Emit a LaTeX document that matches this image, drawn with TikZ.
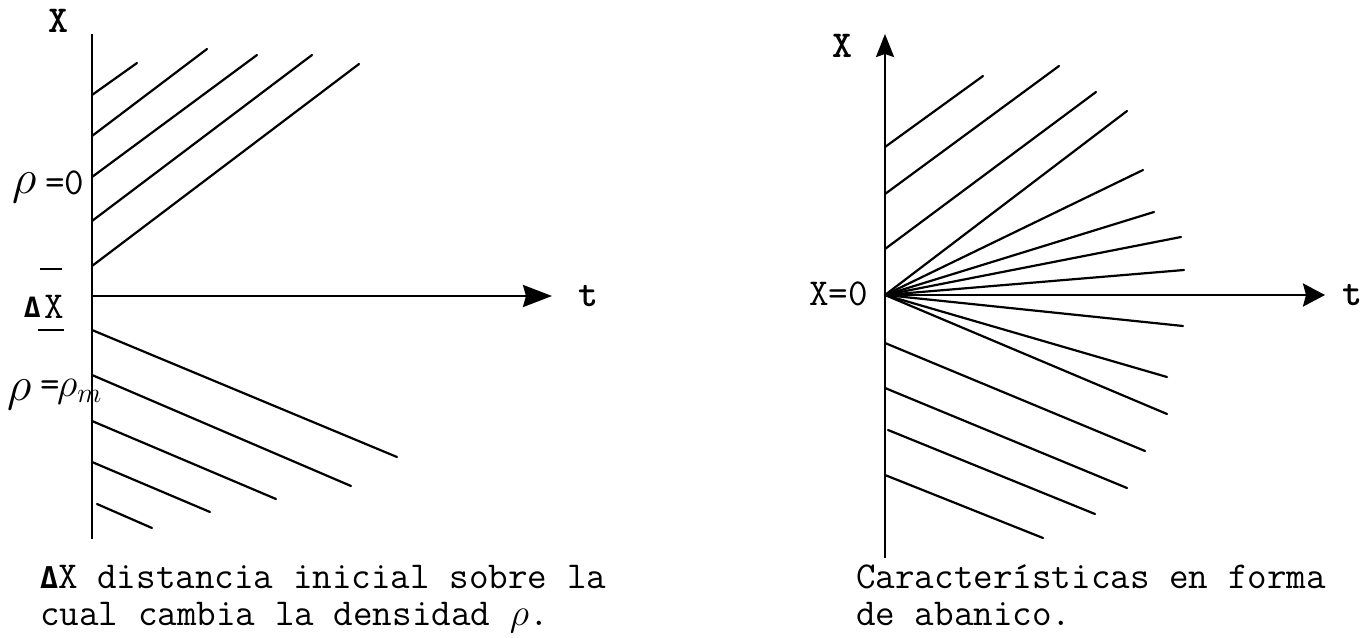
\RequirePackage{fix-cm}
\documentclass[tikz,border=0pt]{standalone}
\usepackage{amsmath,amssymb}
\usepackage{fontspec}
\usepackage{tikz}
\usetikzlibrary{arrows.meta, positioning}

\newfontfamily\tnegra{lmmonolt10-bold.otf}
\newfontfamily\griega{DejaVu Sans Mono}

\tikzset{
  carac/.style={line width=2.2pt, line cap=round},
  eje/.style={line width=2.6pt},
  marca/.style={line width=1.6pt},
  rot/.style={font=\ttfamily\fontsize{38}{38}\selectfont, inner sep=0pt},
  rotb/.style={font=\tnegra\fontsize{38}{38}\selectfont, inner sep=0pt},
  rho/.style={font=\fontsize{48}{48}\selectfont, inner sep=0pt},
  leyenda/.style={font=\ttfamily\fontsize{38}{38}\selectfont, inner sep=0pt,
    text height=26pt, text depth=8pt, anchor=base west}
}

\begin{document}
\begin{tikzpicture}[x=1pt, y=-1pt, >=Stealth]
  \useasboundingbox (0,0) rectangle (1372,637);
  % 左图：坐标轴
  \coordinate (A0) at (92,296);
  \draw[eje] (92,34) -- (92,539);
  \draw[eje, -{Stealth[length=29pt, width=22pt, inset=3pt]}] (A0) -- (552,296) coordinate (At);
  \node[rotb, right=26pt of At] (tA) {t};
  \node[rotb] (xA) at (58,21) {X};
  % 上方特征线
  \foreach \ya/\xb/\yb in {95/137/63, 136/207/49, 177/257/55, 221/312/55, 266/359/64}
    \draw[carac] (92,\ya) -- (\xb,\yb);
  % 下方特征线
  \foreach \xa/\ya/\xb/\yb in {92/330/397/457, 92/375/351/486, 92/421/276/499, 92/462/210/512, 97/504/152/528}
    \draw[carac] (\xa,\ya) -- (\xb,\yb);
  % 密度标记
  \node[rot, anchor=west] (igA) at (45,183) {=0};
  \node[rho] (rA) at (25,188) {$\rho$};
  \node[rot] (dX) at (54,307) {X};
  \node[rot, left=3pt of dX] (dD) {\griega\bfseries\fontsize{28}{28}\selectfont Δ};
  \draw[marca] (40,269) -- (62,269);
  \draw[marca] (38,330) -- (64,330);
  \node[rho] (rB) at (20,395) {$\rho$};
  \node[rot] (igB) at (50,389) {=};
  \node[rho, font=\fontsize{40}{40}\selectfont, anchor=west] (rm) at (57,392) {$\rho_m$};

  % 右图：坐标轴
  \coordinate (B0) at (885,295);
  \draw[eje, -{Stealth[length=23pt, width=18pt, inset=3pt]}] (885,558) -- (885,34);
  \draw[eje, -{Stealth[length=22pt, width=23pt, inset=3pt]}] (B0) -- (1325,295) coordinate (Bt);
  \node[rotb, right=17pt of Bt] (tB) {t};
  \node[rotb] (xB) at (842,46) {X};
  \node[rot, anchor=east] (x0) at (868,294) {X=0};
  % 上方平行线
  \foreach \ya/\xb/\yb in {147/983/76, 194/1059/66, 249/1096/92}
    \draw[carac] (885,\ya) -- (\xb,\yb);
  % 扇形特征线
  \foreach \xb/\yb in {1127/111, 1143/170, 1154/212, 1181/237, 1184/270, 1183/326, 1167/377, 1167/414}
    \draw[carac] (B0) -- (\xb,\yb);
  % 下方平行线
  \foreach \xa/\ya/\xb/\yb in {885/343/1145/451, 885/388/1127/488, 888/430/1095/514, 885/475/1043/538}
    \draw[carac] (\xa,\ya) -- (\xb,\yb);

  % 说明文字
  \node[leyenda] (capA1) at (40,588) {{\griega\bfseries\fontsize{30}{30}\selectfont Δ}X distancia inicial sobre la};
  \node[leyenda] (capA2) at (40,625) {cual cambia la densidad $\rho$.};
  \node[leyenda] (capB1) at (856,588) {Características en forma};
  \node[leyenda] (capB2) at (856,625) {de abanico.};
\end{tikzpicture}
\end{document}
